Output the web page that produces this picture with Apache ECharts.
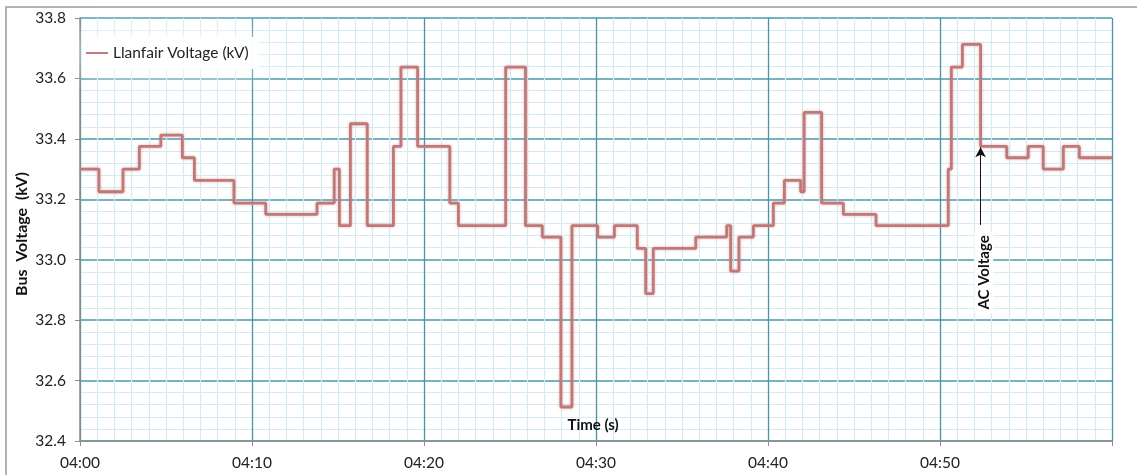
<!DOCTYPE html>
<html>
<head>
<meta charset="utf-8">
<script src="https://cdn.jsdelivr.net/npm/echarts@6/dist/echarts.min.js"></script>
<style>html,body{margin:0;padding:0;background:#fff}#c{width:1137px;height:475px}</style>
</head>
<body>
<div id="c"></div>
<script>
// Time in seconds after 04:00 at which the voltage changes, and the new value (kV)
var times = [0, 1.1, 2.5, 3.45, 4.7, 5.95, 6.65, 8.95, 10.8, 13.78, 14.78, 15.08, 15.72, 16.7, 18.22, 18.66, 19.63, 21.5, 22.0, 24.75, 25.9, 26.88, 27.96, 28.6, 30.1, 31.07, 32.4, 32.89, 33.33, 35.8, 37.6, 37.83, 38.31, 39.15, 40.31, 40.95, 41.9, 42.1, 43.12, 44.38, 46.28, 50.48, 50.66, 51.3, 52.36, 53.88, 55.13, 56.0, 57.17, 58.1, 60];
var volts = [33.30, 33.225, 33.30, 33.375, 33.4125, 33.3375, 33.2625, 33.1875, 33.15, 33.1875, 33.30, 33.1125, 33.45, 33.1125, 33.375, 33.6375, 33.375, 33.1875, 33.1125, 33.6375, 33.1125, 33.075, 32.5125, 33.1125, 33.075, 33.1125, 33.0375, 32.8875, 33.0375, 33.075, 33.1125, 32.9625, 33.075, 33.1125, 33.1875, 33.2625, 33.225, 33.4875, 33.1875, 33.15, 33.1125, 33.30, 33.6375, 33.7125, 33.375, 33.3375, 33.375, 33.30, 33.375, 33.3375, 33.3375];
var xTickLabels = ['04:00', '04:10', '04:20', '04:30', '04:40', '04:50'];
var seriesName = 'Llanfair Voltage (kV)';
var arrowTime = 52.36, arrowFrom = 33.115, arrowTo = 33.372;
var acLabelAt = [52.55, 32.958];
var timeLabelAt = [29.83, 32.453];

var data = times.map(function (t, i) { return [t, volts[i]]; });
var font = 'Lato, "Open Sans", sans-serif';
var chart = echarts.init(document.getElementById('c'));
chart.setOption({
  animation: false,
  backgroundColor: '#fff',
  grid: { left: 80, top: 18, right: 25, bottom: 34 },
  graphic: [
    { type: 'rect', shape: { x: 6, y: 7, width: 1140, height: 480 }, style: { fill: 'none', stroke: '#9a9a9a', lineWidth: 1.5 }, silent: true, z: -10 },
    { type: 'text', rotation: Math.PI / 2, x: 22, y: 234,
      style: { text: 'Bus  Voltage  (kV)', font: 'bold 16px ' + font, fill: '#111', align: 'center', verticalAlign: 'middle' } }
  ],
  legend: {
    left: 82, top: 37, padding: [8, 10, 8, 4],
    itemWidth: 22, itemHeight: 10, itemGap: 4,
    backgroundColor: 'rgba(255,255,255,0.95)', shadowBlur: 30, shadowColor: 'rgba(255,255,255,1)',
    textStyle: { fontFamily: font, fontSize: 15.5, color: '#222' },
    data: [{ name: seriesName, icon: 'path://M0,4 L22,4 L22,6 L0,6 Z' }]
  },
  xAxis: {
    type: 'value', min: 0, max: 60, interval: 10,
    axisLine: { show: true, lineStyle: { color: '#8c8c8c', width: 1.5 } },
    axisTick: { show: true, length: 5, lineStyle: { color: '#8c8c8c' } },
    axisLabel: { margin: 14, fontFamily: font, fontSize: 15.5, color: '#222', showMaxLabel: false,
      formatter: function (v) { var i = Math.round(v / 10); return xTickLabels[i] || ''; } },
    splitLine: { show: true, lineStyle: { color: '#4a93a6', width: 1.3 } },
    minorTick: { show: true, splitNumber: 10, length: 0 },
    minorSplitLine: { show: true, lineStyle: { color: '#d6eaf2', width: 1.2 } }
  },
  yAxis: {
    type: 'value', min: 32.4, max: 33.8, interval: 0.2,
    axisLine: { show: true, lineStyle: { color: '#8c8c8c', width: 1.5 } },
    axisTick: { show: true, length: 5, lineStyle: { color: '#8c8c8c' } },
    axisLabel: { margin: 14, fontFamily: font, fontSize: 15.5, color: '#222', formatter: function (v) { return v.toFixed(1); } },
    splitLine: { show: true, lineStyle: { color: '#4a98ab', width: 1.5 } },
    minorTick: { show: true, splitNumber: 5, length: 0 },
    minorSplitLine: { show: true, lineStyle: { color: '#d6eaf2', width: 1.2 } }
  },
  series: [{
    name: seriesName, type: 'line', step: 'end', data: data,
    showSymbol: false, symbol: 'none',
    itemStyle: { color: '#c27a7a' },
    lineStyle: { color: '#c07878', width: 2.8, shadowBlur: 3, shadowColor: 'rgba(200,130,130,0.6)' },
    markLine: {
      silent: true, symbol: ['none', 'arrow'], symbolSize: [8, 10],
      lineStyle: { color: '#111', width: 1, type: 'solid' },
      label: { show: false },
      data: [[{ coord: [arrowTime, arrowFrom] }, { coord: [arrowTime, arrowTo] }]]
    },
    markPoint: {
      silent: true, symbol: 'rect', symbolSize: 0,
      data: [
        { coord: acLabelAt, label: { show: true, position: 'inside', rotate: 90, formatter: 'AC Voltage',
            fontFamily: font, fontWeight: 'bold', fontSize: 15, color: '#111', backgroundColor: 'rgba(255,255,255,0.9)', padding: [2, 4] } },
        { coord: timeLabelAt, label: { show: true, position: 'inside', formatter: 'Time (s)',
            fontFamily: font, fontWeight: 'bold', fontSize: 15, color: '#111' } }
      ]
    }
  }]
});
</script>
</body>
</html>
